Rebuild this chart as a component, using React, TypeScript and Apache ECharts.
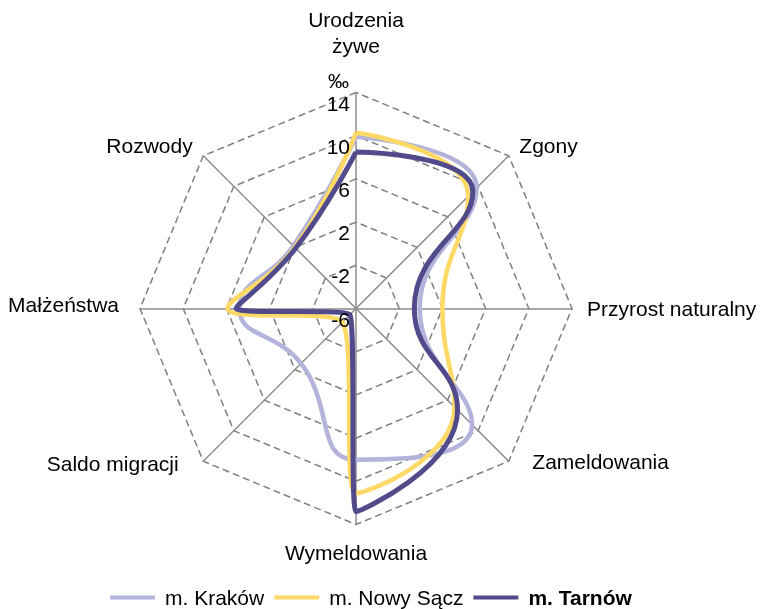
import React, { useEffect, useRef } from 'react';
import * as echarts from 'echarts';

// ---- data (values in ‰), clockwise from the top axis ----
const categories = [
  'Urodzenia żywe',
  'Zgony',
  'Przyrost naturalny',
  'Zameldowania',
  'Wymeldowania',
  'Saldo migracji',
  'Małżeństwa',
  'Rozwody',
];
const seriesNames = ['m. Kraków', 'm. Nowy Sącz', 'm. Tarnów'];
const krakow = [9.9, 9.8, -0.1, 9.2, 8.0, 1.2, 4.8, 2.2];
const nowySacz = [10.3, 8.7, 2.0, 6.9, 11.1, -4.2, 5.9, 2.0];
const tarnow = [8.5, 9.3, -0.6, 7.3, 12.8, -5.2, 5.1, 1.9];
const axisMin = -6;
const axisMax = 14;
const splitCount = 5;
const unitLabel = '‰';

const FONT = "'Liberation Sans', Arial, sans-serif";
const colors = ['#B3B3DB', '#FFD966', '#514B8C'];
const widths = [4.5, 4.5, 5];

const CX = 356;
const CY = 308.5;
const R = 216;

// rich keys per axis name, for fine placement of the names
const nameRichKey: Record<string, string> = {
  'Zgony': 'zg',
  'Przyrost naturalny': 'pr',
  'Zameldowania': 'zam',
  'Wymeldowania': 'wym',
  'Saldo migracji': 'sal',
  'Małżeństwa': 'mal',
  'Rozwody': 'roz',
};

function toPolar(values: number[]) {
  const n = values.length;
  const pts = values.map((v, i) => [v, (i * 360) / n]);
  pts.push([values[0], 360]);
  return pts;
}

export default function App() {
  const ref = useRef<HTMLDivElement>(null);

  useEffect(() => {
    if (!ref.current) return;
    const chart = echarts.init(ref.current, null, { renderer: 'svg' });

    const txt = { fontSize: 21, color: '#000', fontFamily: FONT };

    // ECharts radar places indicators counter-clockwise, so reverse after the first
    const radarOrder = [categories[0], ...categories.slice(1).reverse()];
    const gridIndicator = radarOrder.map((name) => ({ name, min: axisMin, max: axisMax }));
    const labelIndicator = radarOrder.map((name, i) => {
      const base: any = { name, min: axisMin, max: axisMax };
      if (i === 0) {
        base.axisLabel = {
          show: true,
          color: '#000',
          fontSize: 21,
          fontFamily: FONT,
          margin: 6,
          verticalAlign: 'top',
          formatter: (v: number) => String(v),
        };
      }
      return base;
    });

    const allSeries = [krakow, nowySacz, tarnow].map((vals, i) => ({
      name: seriesNames[i],
      type: 'line',
      coordinateSystem: 'polar',
      data: toPolar(vals),
      smooth: 0.5,
      symbol: 'none',
      color: colors[i],
      itemStyle: { color: colors[i] },
      lineStyle: { color: colors[i], width: widths[i] },
      z: 3 + i,
    }));

    chart.setOption({
      animation: false,
      textStyle: { fontFamily: FONT },
      radar: [
        {
          center: [CX, CY],
          radius: R,
          startAngle: 90,
          splitNumber: splitCount,
          shape: 'polygon',
          nameGap: 15,
          z: 0,
          axisName: {
            color: '#000',
            fontSize: 21,
            fontFamily: FONT,
            verticalAlign: 'middle',
            formatter: (name: string) => {
              if (name === categories[0]) {
                const parts = name.split(' ');
                return `{u1|${parts[0]}}\n{u2|${parts.slice(1).join(' ')}}`;
              }
              return `{${nameRichKey[name]}|${name}}`;
            },
            rich: {
              u1: { ...txt, padding: [0, 0, 5, 0] },
              u2: { ...txt, padding: [0, 0, 90, 0] },
              zg: { ...txt },
              pr: { ...txt },
              zam: { ...txt, padding: [0, 0, 20, 13] },
              wym: { ...txt, padding: [25, 0, 0, 0] },
              sal: { ...txt, padding: [0, 14, 17, 0] },
              mal: { ...txt, padding: [0, 6, 9, 0] },
              roz: { ...txt },
            },
          },
          splitLine: { lineStyle: { color: '#7F7F7F', width: 1.5, type: [7, 4] } },
          splitArea: { show: false },
          axisLine: { lineStyle: { color: '#8C8C8C', width: 1.5 } },
          axisLabel: { show: false },
          axisTick: { show: false },
          indicator: gridIndicator,
        },
        {
          // labels only, drawn above the series
          center: [CX, CY],
          radius: R,
          startAngle: 90,
          splitNumber: splitCount,
          shape: 'polygon',
          z: 10,
          axisName: { show: false },
          splitLine: { show: false },
          splitArea: { show: false },
          axisLine: { show: false },
          axisTick: { show: false },
          axisLabel: { show: false },
          indicator: labelIndicator,
        },
      ],
      polar: { center: [CX, CY], radius: R },
      angleAxis: {
        type: 'value',
        min: 0,
        max: 360,
        startAngle: 90,
        clockwise: true,
        show: false,
      },
      radiusAxis: {
        type: 'value',
        min: axisMin,
        max: axisMax,
        show: false,
      },
      legend: {
        left: 105,
        top: 582,
        itemWidth: 45,
        itemHeight: 4,
        itemGap: 10,
        icon: 'rect',
        textStyle: { fontSize: 21, color: '#000', fontFamily: FONT, padding: [0, 0, 0, 5] },
        data: [
          { name: seriesNames[0] },
          { name: seriesNames[1] },
          { name: seriesNames[2], textStyle: { fontWeight: 'bold' } },
        ],
      },
      graphic: [
        {
          type: 'text',
          x: 349,
          y: 80,
          z: 20,
          style: {
            text: unitLabel,
            fill: '#000',
            font: `21px ${FONT}`,
            align: 'right',
            verticalAlign: 'middle',
          },
        },
      ],
      series: allSeries,
    });

    return () => chart.dispose();
  }, []);

  return (
    <div
      ref={ref}
      style={{ position: 'fixed', left: 0, top: 0, width: 760, height: 609 }}
    />
  );
}
